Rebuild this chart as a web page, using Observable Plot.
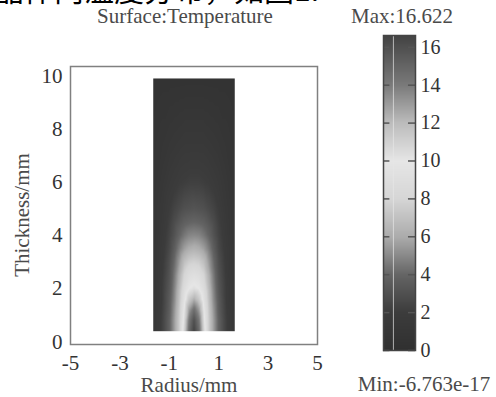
<!DOCTYPE html>
<html><head><meta charset="utf-8">
<script src="https://cdn.jsdelivr.net/npm/d3@7"></script>
<script src="https://cdn.jsdelivr.net/npm/@observablehq/plot@0.6"></script>
<style>
html,body{margin:0;padding:0;background:#fff;}
#fig{position:relative;width:496px;height:397px;overflow:hidden;font-family:"Liberation Serif",serif;}
.t{position:absolute;white-space:nowrap;color:#4a4a4a;font-size:21px;line-height:1;}
svg text{font-family:"Liberation Serif",serif;}
</style></head><body>
<div id="fig">
  <div id="main" style="position:absolute;left:0;top:0"></div>
  <div id="bar" style="position:absolute;left:370px;top:0"></div>
  <div style="position:absolute;left:0;top:0;width:320px;height:9px;overflow:hidden;">
    <div class="t" style="left:-6px;top:-27px;font-family:'Noto Sans CJK SC';font-size:30px;color:#000;">晶体内温度分布，如图1.</div>
  </div>
  <div class="t" style="left:185px;top:6px;transform:translateX(-50%);">Surface:Temperature</div>
  <div class="t" style="left:402px;top:6px;transform:translateX(-50%);">Max:16.622</div>
  <div class="t" style="left:189px;top:375px;transform:translateX(-50%);">Radius/mm</div>
  <div class="t" style="left:424px;top:374px;transform:translateX(-50%);">Min:-6.763e-17</div>
  <div class="t" style="left:22px;top:215px;transform:translate(-50%,-50%) rotate(-90deg);">Thickness/mm</div>
</div>
<script>
// radial positions (mm, r >= 0, mirrored for r < 0)
const radius = [0, 0.2, 0.4, 0.6, 0.8, 1.0, 1.3, 1.65];
// axial positions (mm)
const thickness = [0.4, 0.8, 1.2, 1.6, 2.0, 2.5, 3.0, 3.5, 4.0, 4.5, 5.0, 6.0, 7.5, 9.9];
// temperature, one row per thickness, one value per radius
const temperature = [
  [16.6, 14.8, 10.8, 7.5, 5.5, 3.8, 2.2, 1.2],
  [16.0, 14.2, 10.4, 7.5, 5.5, 3.8, 2.2, 1.2],
  [14.6, 13.0, 10.0, 7.3, 5.3, 3.6, 2.1, 1.2],
  [12.4, 11.4, 9.4, 7.0, 5.0, 3.5, 2.0, 1.1],
  [10.4, 10.0, 8.8, 6.7, 4.8, 3.3, 2.0, 1.1],
  [9.2, 8.9, 8.0, 6.2, 4.5, 3.1, 1.9, 1.0],
  [7.8, 7.6, 6.9, 5.5, 4.1, 2.9, 1.8, 1.0],
  [6.3, 6.1, 5.6, 4.7, 3.6, 2.6, 1.7, 1.0],
  [5.0, 4.9, 4.5, 3.9, 3.1, 2.4, 1.6, 0.9],
  [4.0, 3.9, 3.7, 3.3, 2.8, 2.2, 1.5, 0.9],
  [3.2, 3.1, 3.0, 2.7, 2.4, 2.0, 1.4, 0.9],
  [2.2, 2.2, 2.1, 2.0, 1.8, 1.6, 1.2, 0.8],
  [1.4, 1.4, 1.4, 1.3, 1.2, 1.1, 0.9, 0.7],
  [0.5, 0.5, 0.5, 0.5, 0.5, 0.5, 0.5, 0.4]
];
const xTicks = [-5, -3, -1, 1, 3, 5];
const yTicks = [0, 2, 4, 6, 8, 10];
const barTicks = [0, 2, 4, 6, 8, 10, 12, 14, 16];
const tMin = 0, tMax = 16.622;
const colorStops = [0, 2, 4, 6, 8, 10, 12, 14, 16.622];
const colorGrays = ["#303030", "#3c3c3c", "#656565", "#acacac", "#d6d6d6", "#e6e6e6", "#bcbcbc", "#7a7a7a", "#434343"];

const points = [];
thickness.forEach((z, i) => {
  radius.forEach((r, j) => {
    const t = temperature[i][j];
    points.push({r, z, t});
    if (r > 0) points.push({r: -r, z, t});
  });
});

const colorScale = {type: "linear", domain: colorStops, range: colorGrays, interpolate: "rgb"};
const fmt = d => String(d);
const serif = "Liberation Serif";

const main = Plot.plot({
  width: 340, height: 397,
  marginLeft: 70, marginRight: 23, marginTop: 66, marginBottom: 53,
  x: {domain: [-5, 5], axis: null},
  y: {domain: [-0.1, 10.35], axis: null},
  color: colorScale,
  style: {fontFamily: serif, fontSize: "21px", color: "#333", background: "transparent"},
  marks: [
    Plot.raster(points, {x: "r", y: "z", fill: "t", interpolate: "barycentric",
      x1: -1.65, x2: 1.65, y1: 0.4, y2: 9.9}),
    Plot.frame({stroke: "#808080", strokeWidth: 1.5}),
    Plot.axisX({ticks: xTicks, tickFormat: fmt, tickSize: 0, tickPadding: 11, label: null, fontSize: 21, fontFamily: serif, fill: "#333"}),
    Plot.axisY({ticks: yTicks, tickFormat: fmt, tickSize: 0, tickPadding: 8, label: null, fontSize: 21, fontFamily: serif, fill: "#333"})
  ]
});
document.getElementById("main").append(main);

const bar = Plot.plot({
  width: 126, height: 397,
  marginLeft: 13, marginRight: 81, marginTop: 35, marginBottom: 47,
  x: {domain: [0, 1], axis: null},
  y: {domain: [tMin, tMax], axis: null},
  color: colorScale,
  style: {fontFamily: serif, fontSize: "20px", color: "#333", background: "transparent"},
  marks: [
    Plot.raster({fill: (x, y) => y, x1: 0, x2: 1, y1: tMin, y2: tMax}),
    Plot.ruleX([0.31], {stroke: "#e6e6e6", strokeOpacity: 0.7, strokeWidth: 1}),
    Plot.ruleY(barTicks, {x1: 0, x2: 0.2, stroke: "#555", strokeWidth: 1.5}),
    Plot.ruleY(barTicks, {x1: 0.78, x2: 1, stroke: "#555", strokeWidth: 1.5}),
    Plot.frame({stroke: "#444", strokeWidth: 1.5}),
    Plot.axisY({anchor: "right", ticks: barTicks, tickFormat: fmt, tickSize: 0, tickPadding: 5, label: null, fontSize: 20, fontFamily: serif, fill: "#333"})
  ]
});
document.getElementById("bar").append(bar);
</script>
</body></html>
